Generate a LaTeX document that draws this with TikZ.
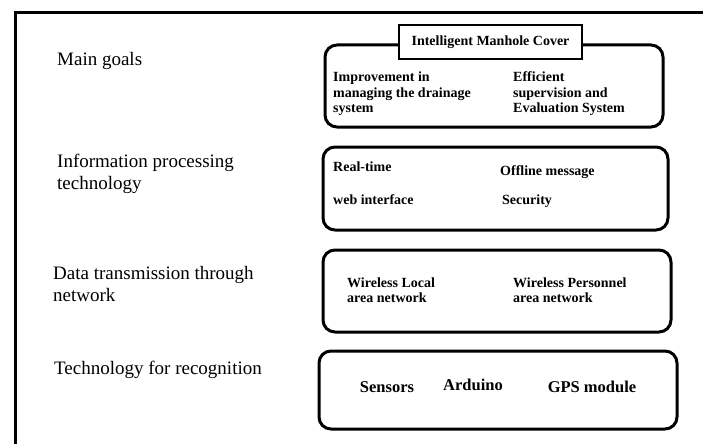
\documentclass[tikz,border=0pt]{standalone}
\usepackage{fontspec}
\setmainfont{Liberation Serif}
\usepackage{tikz}
\usetikzlibrary{calc}

\begin{document}
\begin{tikzpicture}[x=1pt,y=-1pt,
    layerbox/.style={line width=3pt, rounded corners=12pt},
    layerlabel/.style={anchor=west, align=left, inner sep=0pt, font=\fontsize{19}{22}\selectfont},
    item/.style={anchor=west, align=left, inner sep=0pt, font=\fontsize{14}{15.5}\selectfont\bfseries},
    bigitem/.style={inner sep=0pt, font=\fontsize{16.5}{19}\selectfont\bfseries}]
        % Page size 703 x 444 (1pt = 1px)
        \useasboundingbox (0,0) rectangle (703,444);

        % Outer frame, open at right and bottom
        \draw[line width=3pt] (15,444) -- (15,12.5) -- (703,12.5);

        % Layer boxes
        \coordinate (G1) at (325,45);  \coordinate (G2) at (663,127);
        \coordinate (P1) at (323,147); \coordinate (P2) at (668,230);
        \coordinate (T1) at (323,250); \coordinate (T2) at (671,332);
        \coordinate (R1) at (319,351); \coordinate (R2) at (677,429);
        \draw[layerbox] (G1) rectangle (G2);
        \draw[layerbox] (P1) rectangle (P2);
        \draw[layerbox] (T1) rectangle (T2);
        \draw[layerbox] (R1) rectangle (R2);

        % Title on top of first box
        \draw[line width=2.5pt, fill=white] (399,25) rectangle (582,59);
        \node[inner sep=0pt, font=\fontsize{14}{16}\selectfont\bfseries] (title) at (490.5,42) {Intelligent Manhole Cover};

        % Labels on the left
        \node[layerlabel] (goals) at (57,61) {Main goals};
        \node[layerlabel] (process) at (57,174) {Information processing\\technology};
        \node[layerlabel] (transmit) at (53,284) {Data transmission through\\network};
        \node[layerlabel] (recog) at (54,370) {Technology for recognition};

        % Main goals
        \node[item] (improve) at (333,94) {Improvement in\\managing the drainage\\system};
        \node[item] (superv) at (513,94) {Efficient\\supervision and\\Evaluation System};

        % Information processing
        \node[item] (realtime) at (333,167) {Real-time};
        \node[item] (offline) at (500,172) {Offline message};
        \node[item] (web) at (333,200) {web interface};
        \node[item] (secur) at (502,201) {Security};

        % Data transmission
        \node[item] (wlan) at (347,290) {Wireless Local\\area network};
        \node[item] (wpan) at (513,290) {Wireless Personnel\\area network};

        % Recognition
        \node[bigitem] (sensors) at (387,387) {Sensors};
        \node[bigitem] (arduino) at (473,385) {Arduino};
        \node[bigitem] (gps) at (592,387) {GPS module};
    \end{tikzpicture}
\end{document}
